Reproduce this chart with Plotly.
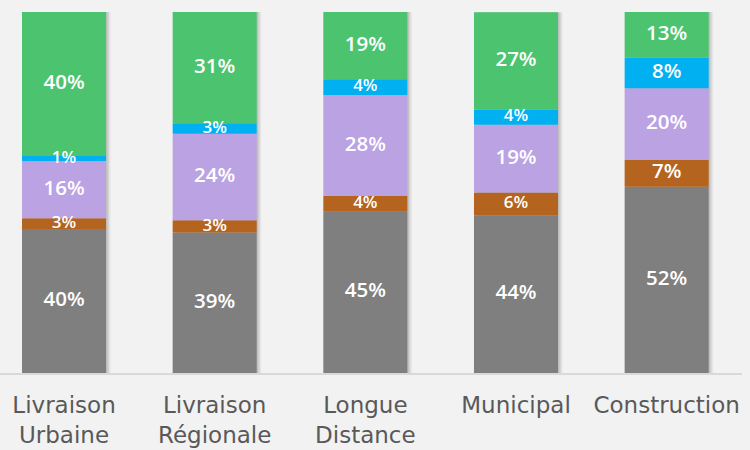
import numpy as np
import plotly.graph_objects as go

categories = ["Livraison<br>Urbaine", "Livraison<br>Régionale", "Longue<br>Distance", "Municipal", "Construction"]
series_names = ["Gris", "Brun", "Violet", "Bleu", "Vert"]
gris = [39.9, 38.9, 44.7, 43.7, 51.6]
brun = [3.0, 3.4, 4.4, 6.3, 7.4]
violet = [15.8, 24.0, 27.9, 18.8, 19.9]
bleu = [1.4, 2.9, 4.4, 4.2, 8.4]
vert = [39.9, 30.8, 18.6, 26.9, 12.7]
colors = ["#7F7F7F", "#B4641E", "#BBA2E3", "#00B0F0", "#4CC46F"]

series = [gris, brun, violet, bleu, vert]
x = list(range(len(categories)))
W = 0.558
px = 150.6

fig = go.Figure()

totals = np.sum(np.array(series), axis=0)
# shadows
for k, a in [(4.5, 0.05), (3, 0.07), (1.5, 0.09)]:
    fig.add_trace(go.Bar(x=x, y=totals, base=0, width=W, offset=-W / 2 + k / px,
                         marker=dict(color=f"rgba(0,0,0,{a})", line=dict(width=0)),
                         hoverinfo="skip", showlegend=False))

base = np.zeros(len(categories))
for name, vals, col in zip(series_names, series, colors):
    vals = np.array(vals)
    fig.add_trace(go.Bar(x=x, y=vals, base=base, width=W, name=name,
                         marker=dict(color=col, line=dict(width=0)), showlegend=False))
    mids = base + vals / 2
    sizes = [20.5 if v >= 7 else 17 for v in vals]
    fig.add_trace(go.Scatter(x=x, y=mids, mode="text",
                             text=[f"{v:.0f}%" for v in vals],
                             textfont=dict(color="white", size=sizes, family="Open Sans", weight=600),
                             textposition="middle center", showlegend=False, hoverinfo="skip"))
    base = base + vals

fig.update_layout(
    barmode="overlay",
    width=750, height=450,
    margin=dict(l=0, r=8, t=12, b=77),
    paper_bgcolor="#F2F2F2", plot_bgcolor="#F2F2F2",
    xaxis=dict(range=[-0.425, 4.5], tickvals=x, ticktext=categories,
               showgrid=False, zeroline=False, showline=True, linecolor="#D9D9D9", linewidth=1.5,
               ticks="", ticklabelstandoff=11,
               tickfont=dict(size=23, color="#595959", family="DejaVu Sans")),
    yaxis=dict(range=[0, 100], visible=False),
)

fig.write_html("out.html", config={"displayModeBar": False},
               post_script="document.body.style.margin='0';document.body.style.background='#F2F2F2';")
